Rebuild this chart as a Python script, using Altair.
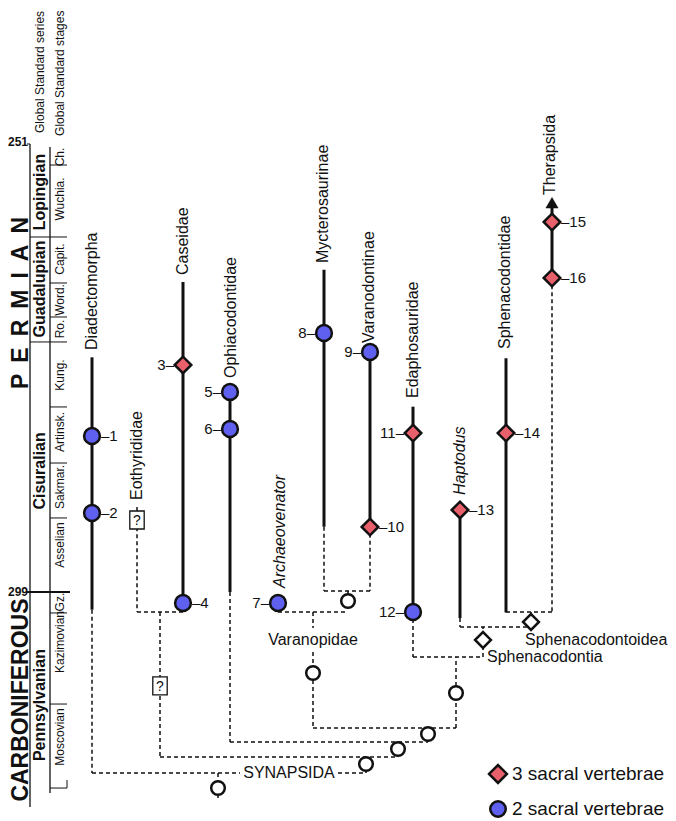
import altair as alt
import pandas as pd

FONT = "Liberation Sans"
BLUE = "#5f5ff0"
RED = "#e8606c"
INK = "#111111"

# ---------------- data ----------------
# horizontal: lineage column position; vertical: time (Ma) as placed on the figure
X_DOMAIN = [8, 668]
T_DOMAIN = [236.29, 323.59]

# observed ranges (solid bars)
lin_names = ["Diadectomorpha", "Caseidae", "Ophiacodontidae", "Mycterosaurinae",
             "Varanodontinae", "Edaphosauridae", "Haptodus", "Sphenacodontidae", "Therapsida"]
lin_x = [92, 183, 230, 324, 370, 413, 460, 506, 552]
lin_top = [273.8, 265.7, 277.5, 264.4, 273.2, 279.1, 290.2, 273.9, 257.7]
lin_bot = [300.9, 300.2, 299.0, 292.0, 292.0, 301.2, 301.8, 301.2, 265.3]

# ghost lineages / tree branches (dashed)
gh_x = [92, 92, 338, 366, 218, 137, 137, 183, 160, 160, 398, 230, 230, 428, 313, 456,
        313, 313, 278, 278, 348, 324, 324, 370, 413, 413, 483, 460, 460, 531, 506, 552]
gh_y = [300.9, 318.44, 318.44, 318.44, 318.44, 291.3, 301.15, 300.2, 301.15, 316.72, 316.72, 299.0, 315.11, 315.11, 313.6, 313.6,
        301.15, 305.44, 301.15, 300.2, 298.89, 298.89, 292.0, 292.0, 301.15, 305.98, 305.98, 301.8, 302.76, 302.76, 301.15, 265.3]
gh_x2 = [92, 240, 366, 366, 218, 137, 183, 183, 160, 398, 398, 230, 428, 428, 456, 456,
         313, 313, 348, 278, 348, 370, 324, 370, 413, 483, 483, 460, 531, 531, 552, 552]
gh_y2 = [318.44, 318.44, 318.44, 316.72, 321.34, 301.15, 301.15, 301.15, 316.72, 316.72, 315.11, 315.11, 315.11, 313.6, 313.6, 305.98,
         302.87, 313.6, 301.15, 301.15, 301.15, 298.89, 298.89, 298.89, 305.98, 305.98, 302.76, 302.76, 302.76, 301.15, 301.15, 301.15]

# sacral vertebrae counts at numbered specimens
num_id = [1, 2, 3, 4, 5, 6, 7, 8, 9, 10, 11, 12, 13, 14, 15, 16]
num_x = [92, 92, 183, 183, 230, 230, 278, 324, 370, 370, 413, 413, 460, 506, 552, 552]
num_y = [282.25, 290.52, 274.62, 300.18, 277.52, 281.50, 300.18, 271.19, 273.23, 292.02,
         281.93, 301.15, 290.19, 281.93, 259.27, 265.28]
num_sacral = [2, 2, 3, 2, 2, 2, 2, 2, 2, 3, 3, 2, 3, 3, 3, 3]
num_side = ["R", "R", "L", "R", "L", "L", "L", "L", "L", "R", "L", "L", "R", "R", "R", "R"]

# internal nodes
node_x = [366, 398, 428, 456, 313, 348, 218]
node_y = [317.47, 315.86, 314.25, 309.85, 307.70, 299.97, 320.05]
clade_dx = [483, 531]
clade_dy = [304.15, 302.22]
unk_x = [137, 160]
unk_y = [291.27, 309.09]
arrow_x = [552]
arrow_y = [257.2]

# clade labels
tax_up = ["Diadectomorpha", "Caseidae", "Eothyrididae", "Ophiacodontidae", "Mycterosaurinae",
          "Varanodontinae", "Edaphosauridae", "Sphenacodontidae", "Therapsida"]
tax_up_x = [92, 183, 137, 231, 323, 369, 413, 505, 550]
tax_up_y = [273.01, 264.96, 289.12, 276.02, 263.67, 272.26, 278.17, 272.91, 256.37]
tax_it = ["Archaeovenator", "Haptodus"]
tax_it_x = [280, 460]
tax_it_y = [298.57, 288.58]
clade_c = ["Varanopidae", "SYNAPSIDA"]
clade_c_x = [313, 289]
clade_c_y = [304.15, 318.44]
clade_l = ["Sphenacodontia", "Sphenacodontoidea"]
clade_l_x = [487, 525]
clade_l_y = [305.98, 304.15]

# time scale
periods = ["PERMIAN", "CARBONIFEROUS"]
period_x = [21, 21]
period_y = [267.97, 310.6]
series = ["Lopingian", "Guadalupian", "Cisuralian", "Pennsylvanian"]
series_y = [256.05, 266.46, 286.0, 311.14]
stages = ["Ch.", "Wuchia.", "Capit.", "Word.", "Ro.", "Kung.", "Artinsk.", "Sakmar.",
          "Asselian", "Gz.", "Kazimovian", "Moscovian"]
stage_y = [252.29, 256.80, 263.24, 267.64, 270.76, 275.70, 281.82, 287.72, 293.95, 300.08, 304.37, 314.57]
stage_bounds = [253.15, 260.88, 265.82, 269.47, 272.15, 279.13, 285.15, 291.05, 301.25, 311.03, 320.05]
series_bounds = [260.88, 272.15]
ages = ["251", "299"]
age_y = [250.68, 299.0]
headers = ["Global Standard series", "Global Standard stages"]
header_x = [40, 60]
header_y = [249.71, 250.03]

legend_labels = ["3 sacral vertebrae", "2 sacral vertebrae"]
legend_y = [318.54, 322.3]
legend_x = [498, 498]

# ---------------- chart ----------------
xs = alt.Scale(domain=X_DOMAIN, nice=False, zero=False)
ys = alt.Scale(domain=T_DOMAIN, reverse=True, nice=False, zero=False)


def XY(xf="x", yf="y"):
    return dict(x=alt.X(f"{xf}:Q", scale=xs, axis=None),
                y=alt.Y(f"{yf}:Q", scale=ys, axis=None))


def rules(df, **mk):
    return alt.Chart(df).mark_rule(**mk).encode(**XY(), x2="x2:Q", y2="y2:Q")


def points(df, shape, size, fill, stroke=INK, sw=2.5):
    return alt.Chart(df).mark_point(shape=shape, size=size, filled=True, fill=fill,
                                    fillOpacity=1, stroke=stroke, strokeWidth=sw,
                                    strokeOpacity=1, opacity=1).encode(**XY())


def texts(df, size, align="left", baseline="middle", angle=0, weight="normal",
          style="normal", dx=0, dy=0, color=INK):
    return alt.Chart(df).mark_text(font=FONT, fontSize=size, align=align, baseline=baseline,
                                   angle=angle, fontWeight=weight, fontStyle=style,
                                   dx=dx, dy=dy, color=color).encode(**XY(), text="label:N")


solid_df = pd.DataFrame({"x": lin_x, "y": lin_top, "x2": lin_x, "y2": lin_bot, "name": lin_names})
ghost_df = pd.DataFrame({"x": gh_x, "y": gh_y, "x2": gh_x2, "y2": gh_y2})
eo_tick = pd.DataFrame({"x": [137], "y": [289.87], "x2": [137], "y2": [290.41]})

thin_lines = pd.DataFrame({
    "x": [50] * len(stage_bounds) + [30] * len(series_bounds) + [27, 67],
    "y": stage_bounds + series_bounds + [250.89, 319.19],
    "x2": [67] * len(stage_bounds) + [50] * len(series_bounds) + [30, 67],
    "y2": stage_bounds + series_bounds + [250.89, 320.05],
})
mid_lines = pd.DataFrame({"x": [30, 50], "y": [250.89, 251.21], "x2": [30, 50], "y2": [322.09, 320.58]})
thick_lines = pd.DataFrame({"x": [27], "y": [299.0], "x2": [70], "y2": [299.0]})

num_df = pd.DataFrame({"id": num_id, "x": num_x, "y": num_y, "sacral": num_sacral, "side": num_side})
num_df["label"] = [("\u2013" + str(i)) if s == "R" else (str(i) + "\u2013")
                   for i, s in zip(num_df["id"], num_df["side"])]
two_df = num_df[num_df["sacral"] == 2]
three_df = num_df[num_df["sacral"] == 3]

node_df = pd.DataFrame({"x": node_x, "y": node_y})
clade_df = pd.DataFrame({"x": clade_dx, "y": clade_dy})
unk_df = pd.DataFrame({"x": unk_x, "y": unk_y, "label": ["?", "?"]})
arrow_df = pd.DataFrame({"x": arrow_x, "y": arrow_y})

period_labels = ["\u00a0\u2009".join(p) if p == "PERMIAN" else p for p in periods]

layers = [
    rules(thin_lines, color=INK, strokeWidth=1),
    rules(mid_lines, color=INK, strokeWidth=1.3),
    rules(thick_lines, color=INK, strokeWidth=2.2),
    rules(ghost_df, color=INK, strokeWidth=1.5, strokeDash=[4, 3]),
    rules(eo_tick, color=INK, strokeWidth=1.5),
    rules(solid_df, color=INK, strokeWidth=3),
    points(arrow_df, "triangle-up", 150, INK, stroke=INK, sw=0.5),
    points(node_df, "circle", 185, "white"),
    points(clade_df, "diamond", 250, "white"),
    points(unk_df, "M-0.8,-1L0.8,-1L0.8,1L-0.8,1Z", 324, "white", sw=1.3),
    texts(unk_df, 14, align="center", dy=1),
    points(two_df, "circle", 250, BLUE),
    points(three_df, "diamond", 275, RED),
    texts(num_df[num_df["side"] == "R"], 15, align="left", dx=9),
    texts(num_df[num_df["side"] == "L"], 15, align="right", dx=-9),
    texts(pd.DataFrame({"x": tax_up_x, "y": tax_up_y, "label": tax_up}), 16, angle=270),
    texts(pd.DataFrame({"x": tax_it_x, "y": tax_it_y, "label": tax_it}), 16, angle=270, style="italic"),
    texts(pd.DataFrame({"x": clade_c_x, "y": clade_c_y, "label": clade_c}), 16, align="center"),
    texts(pd.DataFrame({"x": clade_l_x, "y": clade_l_y, "label": clade_l}), 16, align="left"),
    # time scale text
    texts(pd.DataFrame({"x": period_x, "y": period_y, "label": period_labels}),
          23, align="center", angle=270, weight="bold"),
    texts(pd.DataFrame({"x": [40] * len(series), "y": series_y, "label": series}),
          16, align="center", angle=270, weight="bold"),
    texts(pd.DataFrame({"x": [60] * len(stages), "y": stage_y, "label": stages}),
          12, align="center", angle=270),
    texts(pd.DataFrame({"x": header_x, "y": header_y, "label": headers}), 12, align="left", angle=270),
    texts(pd.DataFrame({"x": [28, 28], "y": age_y, "label": ages}), 12, align="right", weight="bold"),
    # legend
    points(pd.DataFrame({"x": [legend_x[0]], "y": [legend_y[0]]}), "diamond", 320, RED),
    points(pd.DataFrame({"x": [legend_x[1]], "y": [legend_y[1]]}), "circle", 240, BLUE),
    texts(pd.DataFrame({"x": [512, 512], "y": legend_y, "label": legend_labels}), 19, align="left"),
]

chart = alt.layer(*layers).properties(
    width=660, height=813,
    autosize=alt.AutoSizeParams(type="none"),
    padding=0,
).configure_view(stroke=None)

chart.save("out.html", embed_options={"renderer": "svg", "actions": False})
